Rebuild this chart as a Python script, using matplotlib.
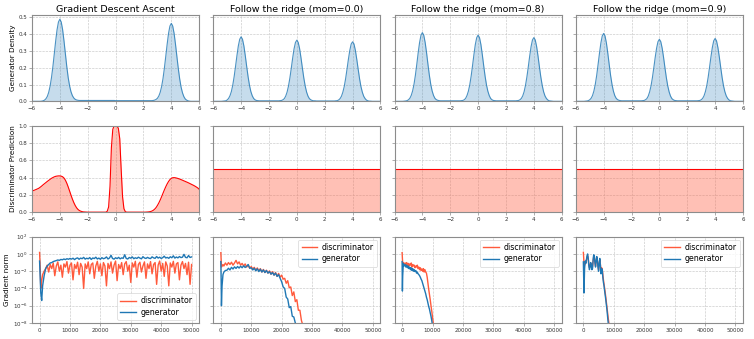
import numpy as np
import matplotlib
matplotlib.use("Agg")
import matplotlib.pyplot as plt

# ---------------- data ----------------
titles = ["Gradient Descent Ascent", "Follow the ridge (mom=0.0)",
          "Follow the ridge (mom=0.8)", "Follow the ridge (mom=0.9)"]
row_labels = ["Generator Density", "Discriminator Prediction", "Gradient norm"]
series_names = ["discriminator", "generator"]

x_grid = np.round(np.arange(-6.0, 6.0001, 0.1), 1)

dens_gda = ([0.0] * 7 +
            [0.001, 0.003, 0.007, 0.015, 0.029, 0.053, 0.090, 0.141, 0.206, 0.282, 0.359, 0.427, 0.473,
             0.490, 0.473, 0.427, 0.359, 0.282, 0.206, 0.141, 0.092, 0.057, 0.034, 0.020, 0.012, 0.008, 0.006] +
            [0.005] * 26 + [0.004] * 27 +
            [0.005, 0.007, 0.011, 0.018, 0.031, 0.053, 0.087, 0.134, 0.196, 0.267, 0.340, 0.405, 0.449,
             0.465, 0.449, 0.405, 0.340, 0.267, 0.196, 0.134, 0.085, 0.051, 0.028, 0.014, 0.007, 0.003, 0.001] +
            [0.0] * 7)

dens_mom0 = ([0.0] * 7 +
             [0.001, 0.002, 0.003, 0.008, 0.017, 0.033, 0.058, 0.096, 0.147, 0.208, 0.272, 0.330, 0.370,
              0.385, 0.370, 0.330, 0.272, 0.208, 0.147, 0.096, 0.058, 0.033, 0.017, 0.009, 0.005, 0.004, 0.003] +
             [0.003] * 13 +
             [0.003, 0.004, 0.005, 0.009, 0.016, 0.031, 0.055, 0.091, 0.139, 0.197, 0.258, 0.313, 0.351,
              0.365, 0.351, 0.313, 0.258, 0.197, 0.139, 0.091, 0.055, 0.031, 0.016, 0.009, 0.005, 0.003, 0.003] +
             [0.002] * 13 +
             [0.002, 0.003, 0.004, 0.008, 0.016, 0.030, 0.054, 0.088, 0.135, 0.192, 0.251, 0.304, 0.342,
              0.355, 0.342, 0.304, 0.251, 0.192, 0.135, 0.088, 0.054, 0.030, 0.016, 0.007, 0.003, 0.001, 0.001] +
             [0.0] * 7)

dens_mom08 = ([0.0] * 7 +
              [0.001, 0.002, 0.004, 0.009, 0.018, 0.035, 0.062, 0.102, 0.156, 0.221, 0.290, 0.351, 0.394,
               0.410, 0.394, 0.351, 0.290, 0.221, 0.156, 0.102, 0.062, 0.035, 0.018, 0.010, 0.006, 0.004, 0.003] +
              [0.003] * 13 +
              [0.003, 0.004, 0.005, 0.009, 0.017, 0.034, 0.060, 0.098, 0.150, 0.213, 0.279, 0.339, 0.380,
               0.395, 0.380, 0.339, 0.279, 0.213, 0.150, 0.098, 0.060, 0.034, 0.017, 0.009, 0.005, 0.004, 0.003] +
              [0.003] * 13 +
              [0.003, 0.004, 0.005, 0.009, 0.017, 0.032, 0.057, 0.095, 0.145, 0.205, 0.269, 0.326, 0.366,
               0.380, 0.366, 0.326, 0.269, 0.205, 0.145, 0.095, 0.057, 0.032, 0.017, 0.008, 0.003, 0.002, 0.001] +
              [0.0] * 7)

dens_mom09 = ([0.0] * 7 +
              [0.001, 0.002, 0.004, 0.009, 0.018, 0.034, 0.061, 0.101, 0.154, 0.219, 0.286, 0.347, 0.390,
               0.405, 0.390, 0.347, 0.286, 0.219, 0.154, 0.101, 0.061, 0.034, 0.018, 0.010, 0.006, 0.004, 0.003] +
              [0.003] * 13 +
              [0.003, 0.004, 0.005, 0.009, 0.016, 0.031, 0.056, 0.092, 0.141, 0.200, 0.262, 0.317, 0.356,
               0.370, 0.356, 0.317, 0.262, 0.200, 0.141, 0.092, 0.056, 0.031, 0.016, 0.009, 0.005, 0.004, 0.003] +
              [0.003] * 13 +
              [0.003, 0.004, 0.005, 0.009, 0.017, 0.032, 0.057, 0.093, 0.143, 0.203, 0.265, 0.321, 0.361,
               0.375, 0.361, 0.321, 0.265, 0.203, 0.143, 0.093, 0.057, 0.032, 0.017, 0.008, 0.003, 0.002, 0.001] +
              [0.0] * 7)

disc_gda = ([0.245, 0.250, 0.256, 0.263, 0.270, 0.278, 0.290, 0.303, 0.317, 0.330,
             0.343, 0.356, 0.368, 0.380, 0.392, 0.401, 0.409, 0.415, 0.418, 0.420,
             0.420, 0.417, 0.410, 0.395, 0.370, 0.335, 0.292, 0.245, 0.197, 0.152,
             0.112, 0.078, 0.051, 0.032, 0.019, 0.011, 0.006, 0.003, 0.002, 0.001] +
            [0.0] * 14 +
            [0.01, 0.06, 0.30, 0.75, 0.96, 1.0, 1.0, 1.0, 0.97, 0.85, 0.50, 0.18, 0.04] +
            [0.005] + [0.0] * 14 +
            [0.001, 0.002, 0.004, 0.007, 0.012, 0.021, 0.034, 0.052, 0.077, 0.106,
             0.140, 0.178, 0.218, 0.257, 0.294, 0.327, 0.355, 0.377, 0.392, 0.399,
             0.400, 0.398, 0.394, 0.389, 0.383, 0.377, 0.370, 0.363, 0.356, 0.349,
             0.342, 0.334, 0.326, 0.318, 0.310, 0.301, 0.291, 0.280, 0.265])
disc_ridge = [0.5] * 121

# gradient norms
it_gda = [0, 200, 400, 700, 1000, 1500] + list(range(2000, 50001, 500))
gn_gda_disc = [1.5, 3e-2, 1e-4, 8e-4, 4e-3, 1e-2, 2e-2,
               5e-2, 8e-3, 6e-2, 2e-2, 9e-2, 3e-3, 4e-2, 1.2e-1, 1e-2, 5e-2,
               2e-3, 7e-2, 3e-2, 1.3e-1, 6e-3, 5e-2, 9e-2, 1e-3, 6e-2, 2e-2,
               1.1e-1, 4e-3, 8e-2, 3e-2, 1e-4, 7e-2, 2e-2, 1.2e-1, 5e-3, 6e-2,
               9e-2, 1.5e-3, 4e-2, 1.4e-1, 1e-2, 7e-2, 3e-3, 1e-1, 4e-2, 2e-4,
               8e-2, 2e-2, 1.2e-1, 6e-3, 5e-2, 1.5e-1, 8e-4, 6e-2, 2e-2, 1e-1,
               4e-3, 7e-2, 1.3e-1, 1e-2, 5e-2, 5e-4, 9e-2, 3e-2, 1.4e-1, 2e-3,
               6e-2, 1.1e-1, 8e-3, 4e-2, 1.2e-1, 1.5e-3, 7e-2, 2e-2, 1.3e-1, 5e-3,
               6e-2, 1e-1, 3e-4, 5e-2, 1.5e-1, 1e-2, 8e-2, 2.5e-3, 1.2e-1, 4e-2,
               2e-4, 9e-2, 3e-2, 1.4e-1, 6e-3, 7e-2, 1e-1, 1e-3, 5e-2, 1.3e-1,
               2e-2, 8e-2, 4e-3, 1.1e-1, 3e-4, 6e-2]
gn_gda_gen = [1.5e-1, 2e-3, 3e-5, 4e-6, 2e-4, 3e-3, 2e-2,
              4e-2, 6e-2, 9e-2, 1e-1, 1.3e-1, 1.5e-1, 1.7e-1, 2e-1, 1.8e-1, 2.3e-1,
              2.1e-1, 2.6e-1, 2.2e-1, 2.8e-1, 2.4e-1, 3e-1, 2.5e-1, 3.2e-1, 2.2e-1, 3e-1,
              3.5e-1, 2.4e-1, 3.3e-1, 2.8e-1, 4e-1, 2.5e-1, 3.2e-1, 2.7e-1, 3.8e-1, 2.3e-1,
              3.4e-1, 2.9e-1, 4.2e-1, 2.6e-1, 3.3e-1, 2.4e-1, 3.7e-1, 2.8e-1, 3.2e-1, 4.5e-1,
              2.6e-1, 3.4e-1, 7e-1, 3e-1, 2.5e-1, 3.6e-1, 2.9e-1, 4e-1, 2.7e-1, 3.5e-1,
              3.1e-1, 8e-1, 3e-1, 2.6e-1, 3.9e-1, 3.2e-1, 4.5e-1, 2.8e-1, 3.6e-1, 3e-1,
              4.2e-1, 3.3e-1, 2.7e-1, 4.8e-1, 3.4e-1, 3e-1, 4e-1, 3.2e-1, 2.9e-1, 4.6e-1,
              3.5e-1, 3.1e-1, 5e-1, 3.3e-1, 4.2e-1, 3e-1, 3.7e-1, 5.5e-1, 3.4e-1, 4e-1,
              3.1e-1, 4.7e-1, 3.6e-1, 6e-1, 3.3e-1, 4.4e-1, 3.5e-1, 5e-1, 3.8e-1, 4.2e-1,
              9e-1, 4e-1, 3.6e-1, 6.5e-1, 3.9e-1, 4.5e-1]

it_m0_disc = [0, 100, 200, 400, 700, 1000, 1500] + list(range(2000, 27001, 500))
gn_m0_disc = [1.4, 2e-1, 3e-2, 4e-2, 6e-2, 4e-2, 9e-2,
              5e-2, 1e-1, 6e-2, 1.1e-1, 5e-2, 9e-2, 1.8e-1, 7e-2, 1.2e-1, 5e-2,
              8e-2, 4e-2, 7e-2, 3e-2, 5e-2, 2.2e-2, 3.5e-2, 1.8e-2, 2.8e-2, 1.3e-2,
              2.4e-2, 1.1e-2, 2e-2, 8e-3, 1.6e-2, 7e-3, 1.3e-2, 6e-3, 1.1e-2, 4.5e-3,
              9e-3, 3.5e-3, 7e-3, 2.5e-3, 5.5e-3, 2e-3, 3.5e-3, 1.2e-3, 1.5e-3, 4e-4,
              8e-4, 1.2e-4, 1.5e-4, 1.5e-5, 4e-5, 3e-6, 5e-6, 3e-7, 3e-7, 2e-8, 5e-9]
it_m0_gen = [0, 100, 200, 400, 700, 1000, 1500] + list(range(2000, 25001, 500))
gn_m0_gen = [1.3e-1, 1e-3, 1e-6, 2e-4, 4e-3, 8e-3, 1.2e-2,
             1.3e-2, 2.2e-2, 1.4e-2, 2.8e-2, 1.8e-2, 3.2e-2, 2.1e-2, 3.5e-2, 2.3e-2, 3.8e-2,
             2.5e-2, 4.2e-2, 2.7e-2, 3.8e-2, 6e-2, 2.2e-2, 2.5e-2, 1.4e-2, 2.2e-2, 1.1e-2,
             1.9e-2, 9e-3, 1.7e-2, 8e-3, 1.4e-2, 7e-3, 1.2e-2, 6e-3, 9e-3, 4.5e-3,
             7e-3, 3.5e-3, 6e-3, 2.5e-3, 4e-3, 1.5e-3, 6e-4, 1.5e-4, 1e-4, 1e-5,
             6e-6, 6e-7, 8e-7, 6e-8, 5e-8, 1e-8, 5e-9]

it_m08_disc = [0, 100, 200, 400, 700] + list(range(1000, 10501, 250))
gn_m08_disc = [1.4, 3e-1, 8e-2, 1e-1, 7e-2,
               9e-2, 6e-2, 1e-1, 5e-2, 8e-2, 4e-2, 7e-2, 5e-2, 9e-2, 3e-2,
               6e-2, 4e-2, 5e-2, 2.5e-2, 4e-2, 3e-2, 5e-2, 2e-2, 3e-2, 1.5e-2,
               2.5e-2, 1.2e-2, 1.8e-2, 1e-2, 2e-2, 8e-3, 1.5e-2, 8e-3, 6e-3, 2e-3,
               4e-4, 8e-5, 2e-5, 5e-6, 1e-6, 2.5e-7, 5e-8, 1e-8, 4e-9]
it_m08_gen = [0, 100, 200, 400, 700] + list(range(1000, 10001, 250))
gn_m08_gen = [1.3e-1, 5e-5, 3e-3, 8e-2, 4e-2,
              6e-2, 3e-2, 5e-2, 2.5e-2, 4e-2, 2e-2, 3e-2, 1.5e-2, 2.5e-2, 1.2e-2,
              2e-2, 1e-2, 1.5e-2, 9e-3, 1.2e-2, 6e-3, 8e-3, 5e-3, 4e-3, 3e-3,
              2e-3, 1.2e-3, 8e-4, 4e-4, 2e-4, 1e-4, 5e-5, 2.5e-5, 1e-5, 5e-6,
              2e-6, 8e-7, 4e-7, 1.5e-7, 6e-8, 2e-8, 5e-9]

it_m09_disc = list(range(0, 8601, 200))
gn_m09_disc = [1.5, 1e-1, 5e-2, 1.2e-1, 1e-1, 2e-1, 4e-1, 6e-1, 3e-1, 6e-2,
               2.5e-2, 4e-2, 9e-2, 6e-2, 2.5e-2, 3e-2, 1.5e-1, 5e-1, 4e-1, 1e-1,
               4e-2, 1.2e-1, 4e-1, 1.8e-1, 4e-2, 1.5e-2, 7e-2, 2e-1, 6e-2, 1e-2,
               2.5e-2, 1.8e-2, 4e-3, 1e-3, 3e-4, 1e-4, 3e-5, 8e-6, 2e-6, 5e-7,
               1.2e-7, 3e-8, 1e-8, 4e-9]
it_m09_gen = list(range(0, 8201, 200))
gn_m09_gen = [1.2e-1, 3e-5, 2e-2, 1.5e-1, 8e-2, 2e-1, 6e-1, 1.0, 3e-1, 4e-2,
              1.5e-2, 3e-2, 1e-1, 5e-2, 1.5e-2, 2e-2, 2e-1, 8e-1, 6e-1, 1e-1,
              3e-2, 1.5e-1, 5e-1, 2e-1, 3e-2, 1e-2, 8e-2, 3e-1, 5e-2, 5e-3,
              2e-2, 1.5e-2, 2e-3, 5e-4, 2e-4, 5e-5, 1.5e-5, 4e-6, 1e-6, 2.5e-7,
              4e-8, 8e-9]

densities = [dens_gda, dens_mom0, dens_mom08, dens_mom09]
discs = [disc_gda, disc_ridge, disc_ridge, disc_ridge]
grads = [((it_gda, gn_gda_disc), (it_gda, gn_gda_gen)),
         ((it_m0_disc, gn_m0_disc), (it_m0_gen, gn_m0_gen)),
         ((it_m08_disc, gn_m08_disc), (it_m08_gen, gn_m08_gen)),
         ((it_m09_disc, gn_m09_disc), (it_m09_gen, gn_m09_gen))]
legend_locs = ["lower right", "upper right", "upper right", "upper right"]

# ---------------- plot ----------------
plt.rcParams["font.family"] = ["DejaVu Sans"]
fig, axes = plt.subplots(3, 4, figsize=(7.54, 3.39), dpi=100)
fig.subplots_adjust(left=0.0424, right=0.9854, top=0.9558, bottom=0.0472,
                    wspace=0.084, hspace=0.284)

blue = "#1f77b4"
red_line = "#ff5a3c"

def style(ax):
    for s in ax.spines.values():
        s.set_color("#8c8c8c")
        s.set_linewidth(0.8)
    ax.tick_params(labelsize=4.0, length=2, width=0.5, color="#8c8c8c",
                   labelcolor="#333333", pad=1.5)
    ax.grid(True, linestyle="--", linewidth=0.45, color="#c8c8c8")
    ax.set_axisbelow(True)

for j in range(4):
    # density
    ax = axes[0, j]
    style(ax)
    ax.fill_between(x_grid, densities[j], color=blue, alpha=0.25, linewidth=0)
    ax.plot(x_grid, densities[j], color=blue, lw=0.8, alpha=0.8)
    ax.set_xlim(-6, 6)
    ax.set_ylim(0, 0.515)
    ax.set_xticks(np.arange(-6, 7, 2))
    ax.set_yticks(np.arange(0, 0.51, 0.1))
    ax.set_title(titles[j], fontsize=6.8, pad=2)
    if j > 0:
        ax.set_yticklabels([])

    # discriminator prediction
    ax = axes[1, j]
    style(ax)
    ax.fill_between(x_grid, discs[j], color="tomato", alpha=0.4, linewidth=0)
    ax.plot(x_grid, discs[j], color="red", lw=0.8)
    ax.set_xlim(-6, 6)
    ax.set_ylim(0, 1.0)
    ax.set_xticks(np.arange(-6, 7, 2))
    ax.set_yticks(np.arange(0, 1.01, 0.2))
    if j > 0:
        ax.set_yticklabels([])

    # gradient norm
    ax = axes[2, j]
    style(ax)
    (xd, yd), (xg, yg) = grads[j]
    ax.plot(xd, yd, color=red_line, lw=1.0, label=series_names[0])
    ax.plot(xg, yg, color=blue, lw=1.0, label=series_names[1])
    ax.set_yscale("log")
    ax.set_ylim(1e-8, 1e2)
    ax.set_xlim(-2500, 52500)
    ax.set_xticks(np.arange(0, 50001, 10000))
    ax.set_yticks([1e-8, 1e-6, 1e-4, 1e-2, 1e0, 1e2])
    ax.minorticks_off()
    if j > 0:
        ax.set_yticklabels([])
    leg = ax.legend(loc=legend_locs[j], fontsize=5.7, frameon=True,
                    borderpad=0.4, labelspacing=0.3, handlelength=2.0,
                    handletextpad=0.6, borderaxespad=0.4)
    leg.get_frame().set_linewidth(0.5)

for i in range(3):
    axes[i, 0].set_ylabel(row_labels[i], fontsize=5.2, labelpad=2)

fig.savefig("out.png", dpi=100)
